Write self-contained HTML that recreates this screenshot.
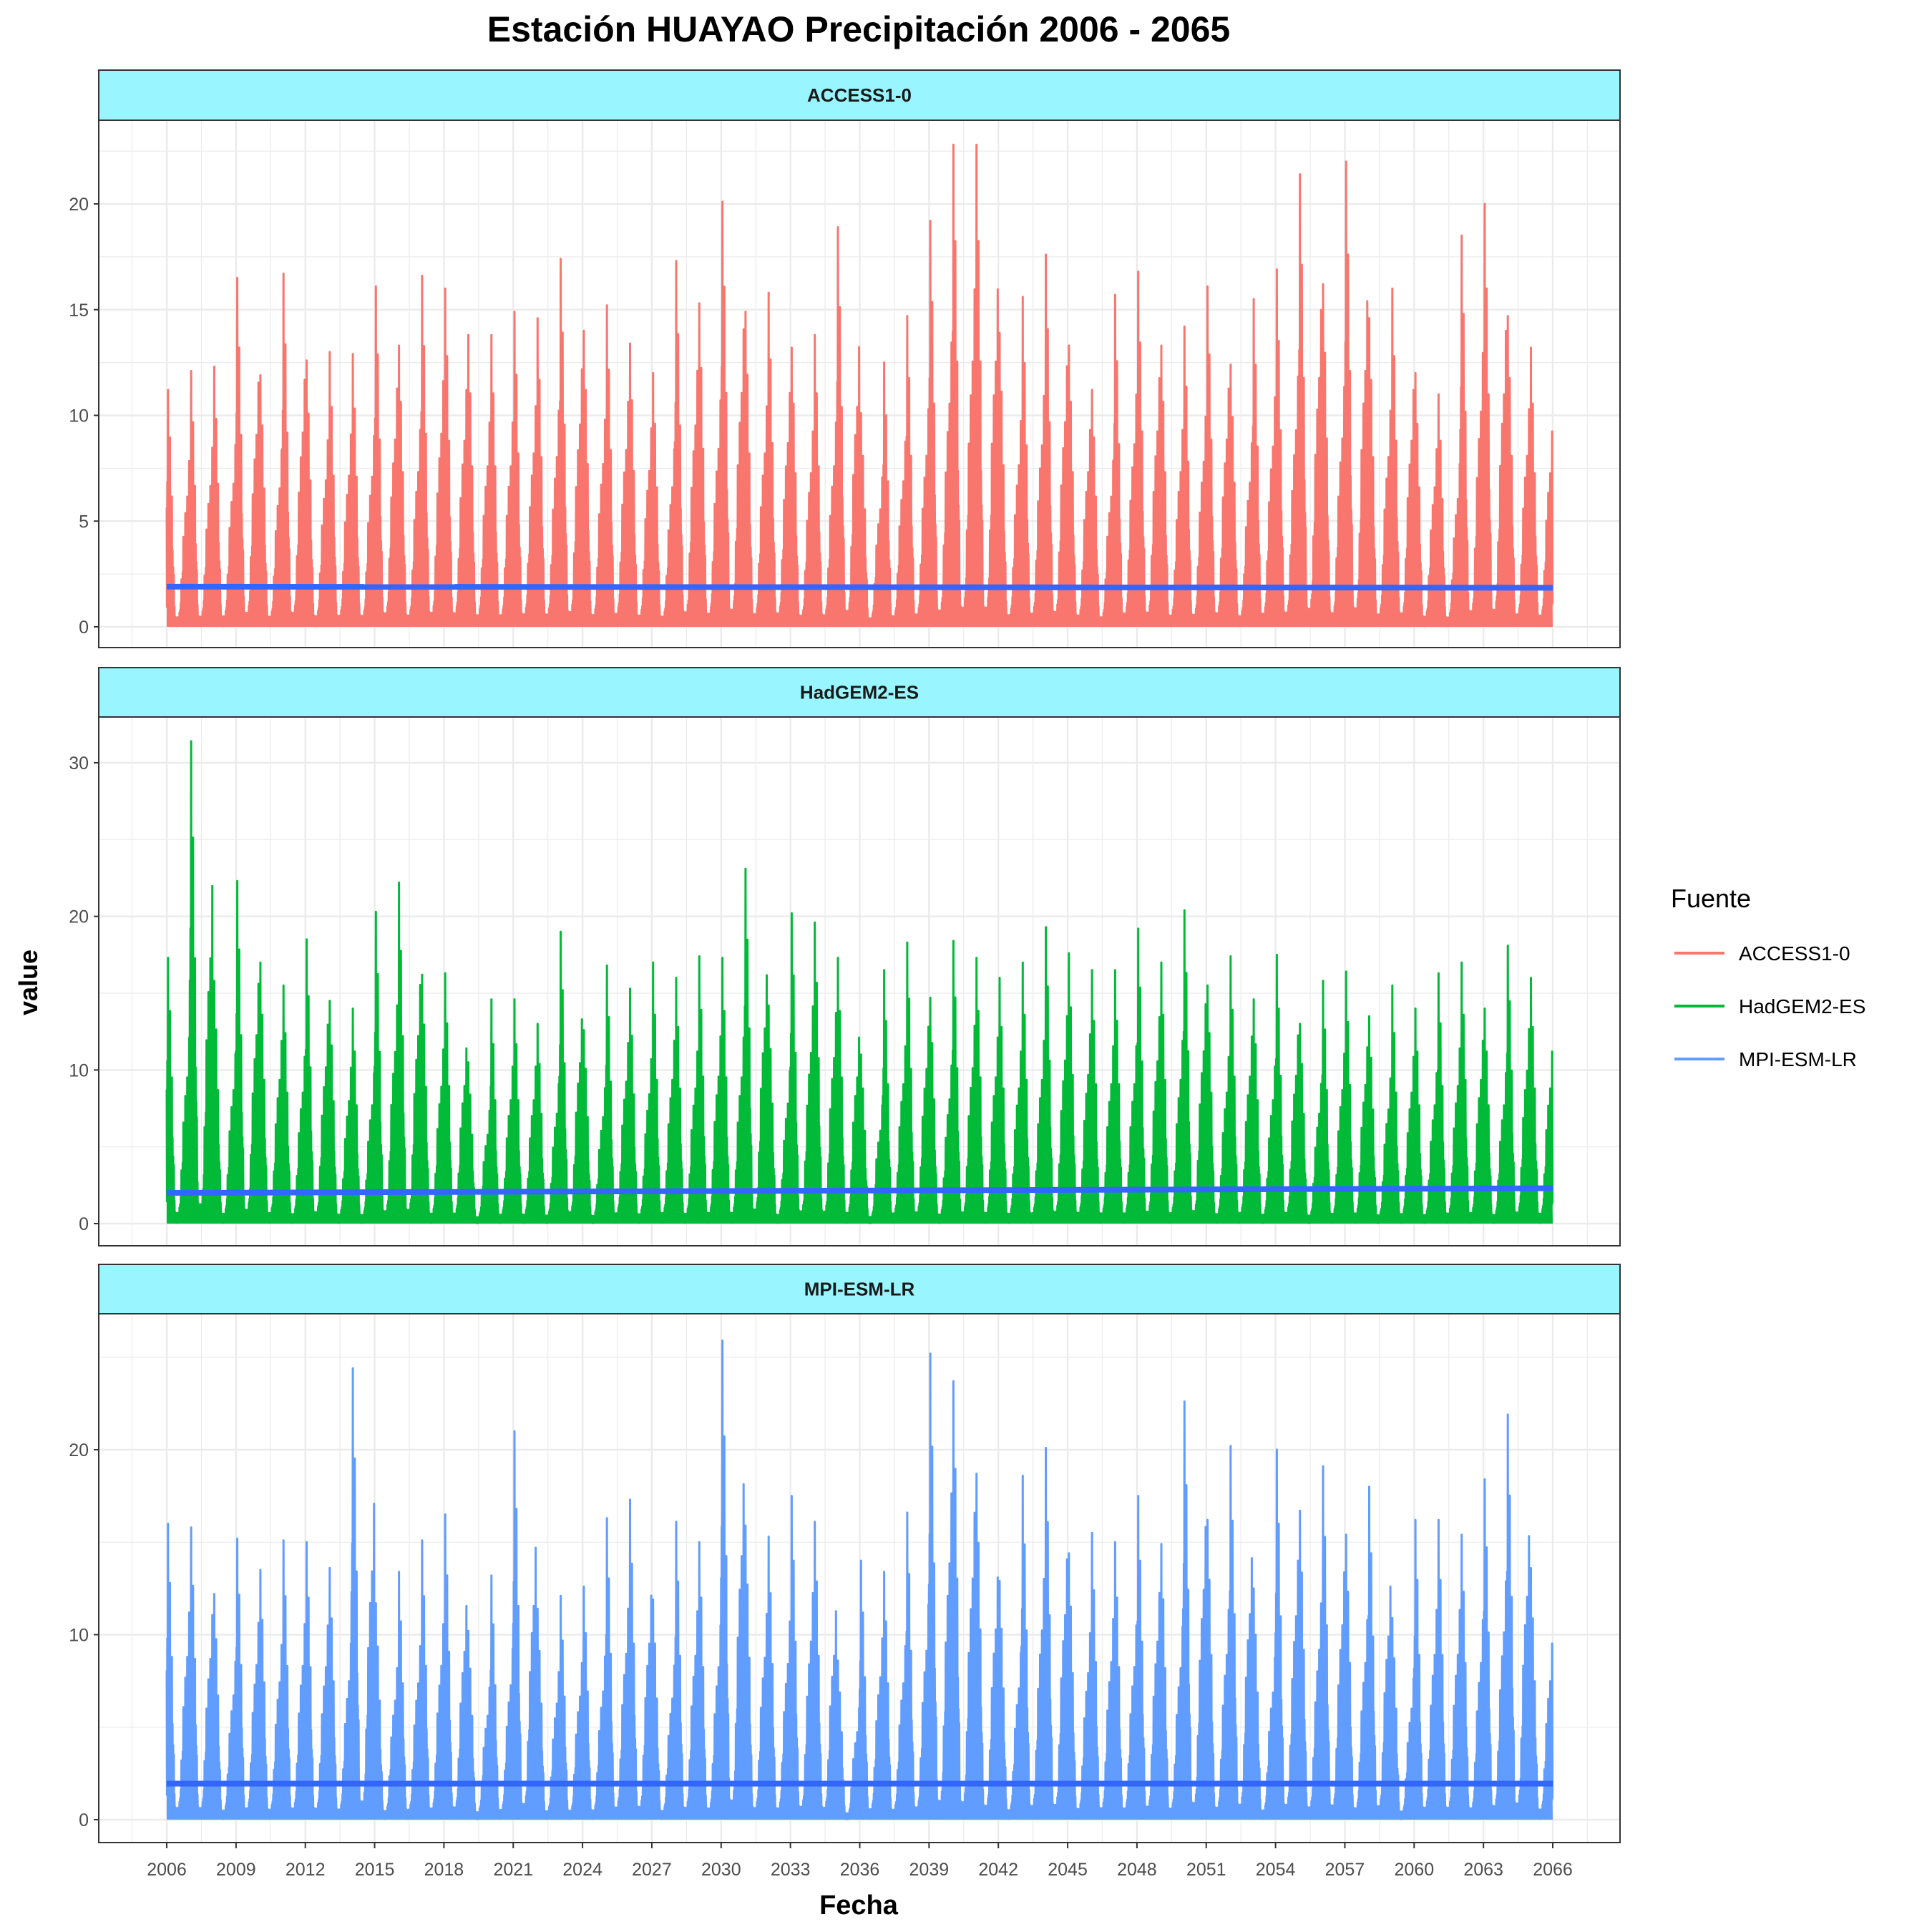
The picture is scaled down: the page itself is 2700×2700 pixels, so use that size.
<!DOCTYPE html>
<html><head><meta charset="utf-8"><style>
html,body{margin:0;padding:0;background:#fff;}
svg{display:block;font-family:"Liberation Sans",Arial,sans-serif;}
</style></head><body>
<svg id="chart" width="2700" height="2700" viewBox="0 0 2700 2700" xmlns="http://www.w3.org/2000/svg">
<text x="1200" y="58" text-anchor="middle" font-size="50" font-weight="bold">Estación HUAYAO Precipitación 2006 - 2065</text>
<text transform="translate(52,1373) rotate(-90)" text-anchor="middle" font-size="36" font-weight="bold">value</text>
<text x="1200" y="2675" text-anchor="middle" font-size="38" font-weight="bold">Fecha</text>
<g id="panels"></g>
<g>
<text x="2335" y="1268" font-size="36">Fuente</text>
<g><line x1="2340" y1="1332" x2="2410" y2="1332" stroke="#F8766D" stroke-width="4"/><text x="2430" y="1342" font-size="28">ACCESS1-0</text></g>
<g><line x1="2340" y1="1406" x2="2410" y2="1406" stroke="#00BA38" stroke-width="4"/><text x="2430" y="1416" font-size="28">HadGEM2-ES</text></g>
<g><line x1="2340" y1="1480" x2="2410" y2="1480" stroke="#619CFF" stroke-width="4"/><text x="2430" y="1490" font-size="28">MPI-ESM-LR</text></g>
</g>
</svg>
<script>
const years = [];
for (let y = 2006; y <= 2065; y++) years.push(y);
const xTickLabels = [2006,2009,2012,2015,2018,2021,2024,2027,2030,2033,2036,2039,2042,2045,2048,2051,2054,2057,2060,2063,2066];
const peaksAccess = [11.2,12.1,12.3,16.5,11.9,16.7,12.6,13,12.9,16.1,13.3,16.6,16,13.8,13.8,14.9,14.6,17.4,14,15.2,13.4,12,17.3,15.3,20.1,14.9,15.8,13.2,13.8,18.9,10.1,12.5,14.7,19.2,22.8,22.8,13.9,15.6,17.6,13.3,11.2,15.7,16.8,13.3,14.2,16.1,12.4,15.5,16.9,21.4,16.2,22,14.6,16,12,11,18.5,20,14.7,13.2];
const peaksHadgem = [17.3,31.4,15.8,22.3,17,15.5,18.5,14.5,14,20.3,22.2,16.2,16.3,10.5,14.6,14.6,13,19,12.6,16.8,15.3,17,16,17.4,17.3,23.1,14.2,20.2,19.6,17.3,11,16.5,18.3,14.7,18.4,17.3,16,17,19.3,17.6,16.5,16.5,19.2,17,20.4,15.5,17.4,14.6,17.5,13,15.8,16.4,13.5,15.5,14,16.3,17,14,18.1,16];
const peaksMpi = [16,15.8,12.2,15.2,13.5,15.1,15,13.6,24.4,11.7,13.4,15.1,16.5,10.2,13.2,21,11.4,12.1,12.6,16.3,17.3,11.9,16.1,15,25.9,15.9,15.3,17.5,16.1,8.6,14,13.4,16.6,25.2,23.7,18.7,12.9,18.6,20.1,14.4,15.5,15,17.5,14.9,22.6,16.2,20.2,12.5,20,16.7,19.1,15.4,18,10.9,16.2,16.2,15.4,18.4,21.9,13.6];
const seasonShape = [0.7,0.85,1.0,0.8,0.7,0.8,0.65,0.7,0.55,0.45,0.35,0.22,0.12,0.06,0.04,0.03,0.03,0.04,0.05,0.05,0.06,0.1,0.14,0.2,0.26,0.32,0.38,0.42,0.5,0.48,0.55,0.6,0.55,0.62,0.66,0.7];
const meanStart = [1.9, 2.0, 1.95];
const meanEnd = [1.85, 2.3, 1.95];
const yTicks = [[0,5,10,15,20],[0,10,20,30],[0,10,20]];
const panelNames = ["ACCESS1-0","HadGEM2-ES","MPI-ESM-LR"];
const panelColors = ["#F8766D","#00BA38","#619CFF"];
const allPeaks = [peaksAccess, peaksHadgem, peaksMpi];

const NS = "http://www.w3.org/2000/svg";
const L = 138, R = 2264;
const x = v => 233 + (v - 2006) * (2170 - 233) / 60;
const geo = [
  {st:98, sb:168, pb:905, y0:876, y1v:20, y1p:285},
  {st:933, sb:1002, pb:1741, y0:1710, y1v:30, y1p:1066},
  {st:1767, sb:1836, pb:2575, y0:2543, y1v:20, y1p:2026}
];
function mk(tag, attrs, parent){const e=document.createElementNS(NS,tag);for(const k in attrs)e.setAttribute(k,attrs[k]);parent.appendChild(e);return e;}
const root = document.getElementById('panels');
geo.forEach((g,pi)=>{
  const yf = v => g.y0 + (g.y1p - g.y0) * v / g.y1v;
  const grp = mk('g',{},root);
  
  
  mk('rect',{x:L,y:g.sb,width:R-L,height:g.pb-g.sb,fill:'#fff'},grp);
  const step = yTicks[pi][1]-yTicks[pi][0];
  for(let v=-step/2; yf(v)>g.sb; v+=step/2){
    const yy=yf(v); if(yy>g.pb) continue;
    const major = Math.abs(v/step - Math.round(v/step))<1e-6;
    mk('line',{x1:L,x2:R,y1:yy,y2:yy,stroke:'#EBEBEB','stroke-width':major?2.4:1.2},grp);
  }
  for(let v=2004.5; v<=2068; v+=1.5){
    const xx=x(v); if(xx<L||xx>R) continue;
    const major = Math.abs((v-2006)/3 - Math.round((v-2006)/3))<1e-6;
    mk('line',{x1:xx,x2:xx,y1:g.sb,y2:g.pb,stroke:'#EBEBEB','stroke-width':major?2.4:1.2},grp);
  }
  const peaks = allPeaks[pi];
  let d = '';
  years.forEach((yr,i)=>{
    seasonShape.forEach((s,k)=>{
      const t = yr + k/36;
      const hi = peaks[i]*s*(k%3===2?1:0.72);
      const lo = peaks[i]*s*0.12;
      d += (d?'L':'M') + x(t).toFixed(1) + ',' + yf(hi).toFixed(1);
      d += 'L' + x(t+1/72).toFixed(1) + ',' + yf(lo).toFixed(1);
    });
  });
  const base = mk('path',{d:d+'L'+x(2066)+','+yf(0)+'L'+x(2006)+','+yf(0)+'Z',fill:panelColors[pi],stroke:'none'},grp);
  
  
  const line = mk('path',{d:d,fill:'none',stroke:panelColors[pi],'stroke-width':3,'stroke-linejoin':'round'},grp);
  
  
  const ml = mk('line',{x1:x(2006),x2:x(2066),y1:yf(meanStart[pi]),y2:yf(meanEnd[pi]),stroke:'#3366FF','stroke-width':8},grp);
  
  
  mk('rect',{x:L,y:g.sb,width:R-L,height:g.pb-g.sb,fill:'none',stroke:'#333','stroke-width':2},grp);
  const strip = mk('rect',{x:L,y:g.st,width:R-L,height:g.sb-g.st,fill:'#99F5FF',stroke:'#333','stroke-width':2},grp);
  
  
  const st = mk('text',{x:(L+R)/2,y:(g.st+g.sb)/2+9,'text-anchor':'middle','font-size':26,'font-weight':'bold',fill:'#1a1a1a'},grp);
  st.textContent = panelNames[pi];
  
  
  yTicks[pi].forEach(v=>{
    const yy=yf(v);
    mk('line',{x1:L-7,x2:L,y1:yy,y2:yy,stroke:'#333','stroke-width':2},grp);
    const t = mk('text',{x:L-14,y:yy+9,'text-anchor':'end','font-size':25,fill:'#4d4d4d'},grp);
    t.textContent = v;
    
    
  });
  if(pi===2){
    xTickLabels.forEach(v=>{
      const xx=x(v);
      mk('line',{x1:xx,x2:xx,y1:g.pb,y2:g.pb+8,stroke:'#333','stroke-width':2},grp);
      const t = mk('text',{x:xx,y:2621,'text-anchor':'middle','font-size':25,fill:'#4d4d4d'},grp);
      t.textContent = v;
      
      
    });
  }
});
</script>
</body></html>
